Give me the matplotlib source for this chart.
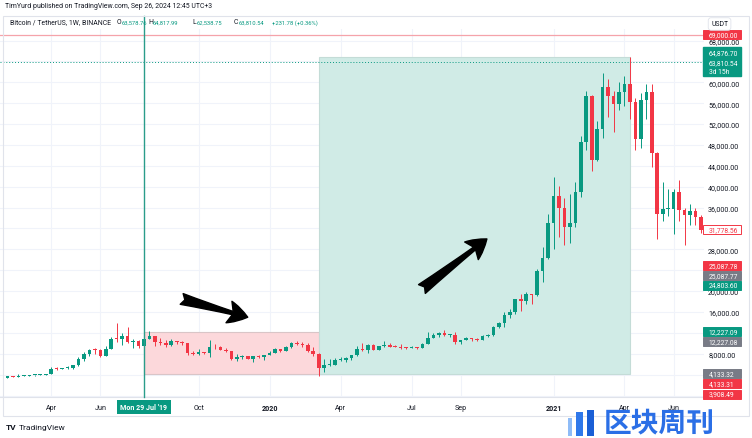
import matplotlib
matplotlib.use("Agg")
import matplotlib.pyplot as plt
from matplotlib.patches import Rectangle
from matplotlib import transforms
import numpy as np
import pandas as pd

plt.rcParams["font.family"] = ["Roboto", "DejaVu Sans"]

# weekly BTC/USDT candles, first week starts 2019-02-04
first_week = "2019-02-04"
opens = [3414, 3660, 3620, 3740, 3820, 3860, 3990, 4010, 4100, 5060, 5030, 5300, 5360, 5750, 6970, 8000,
         8740, 8730, 7640, 8980, 10850, 10750, 11400, 10200, 10530, 9480, 10820, 11390, 10230, 10140, 9600, 10400,
         10300, 9980, 8050, 7880, 8270, 8220, 9250, 9200, 8800, 8500, 7050, 7420, 7510, 7070, 7510, 7390,
         7760, 8180, 8900, 8590, 9380, 10150, 9920, 9670, 8540, 8040, 5360, 5830, 5880, 6780, 6860, 7120,
         7690, 8900, 8720, 9680, 8720, 9450, 9660, 9340, 9290, 9130, 9070, 9230, 9160, 9930, 11050, 11550,
         11900, 11650, 11680, 10250, 10680, 11080, 10770, 10670, 11380, 11500, 13030, 13800, 15480, 15960, 18410, 18180,
         19360, 19270, 23860, 26440, 33000, 38150, 36020, 32260, 33090, 38900, 48580, 57410, 45140, 50970, 59020, 57350,
         55790, 58200, 59780, 56150, 49070, 56600, 58240, 46430, 34700, 35660, 35800, 39020, 35520, 34680, 35290, 34250]
highs = [3730, 3700, 4200, 3900, 3940, 4000, 4100, 4150, 5490, 5470, 5360, 5630, 5900, 7450, 8370, 8940,
         9090, 8830, 9390, 11150, 13970, 12000, 13200, 10900, 10700, 11080, 12330, 11450, 10950, 10650, 10900, 10470,
         10380, 10050, 8550, 8830, 8420, 10540, 9950, 9490, 9100, 8500, 7860, 7740, 7600, 7520, 7700, 7810,
         8450, 9190, 8990, 9570, 10160, 10500, 10300, 9970, 9200, 8180, 6900, 6960, 7200, 7470, 7300, 7780,
         9470, 10070, 9940, 9950, 9580, 10430, 9990, 9590, 9780, 9370, 9440, 9300, 10120, 12120, 11900, 12090,
         12490, 11800, 12090, 10700, 11180, 11090, 10980, 11500, 11730, 13350, 14100, 15970, 16500, 18480, 19480, 19920,
         19420, 24300, 28420, 34780, 41950, 40100, 37850, 38530, 40960, 49710, 58350, 57530, 52640, 61800, 60630, 58420,
         60000, 61300, 64860, 57000, 57930, 59600, 59600, 46660, 40900, 39500, 39480, 41330, 36000, 36600, 35950, 34680]
lows = [3373, 3560, 3600, 3660, 3670, 3820, 3930, 3950, 4090, 4930, 4990, 5150, 5160, 5700, 6600, 7500,
        8000, 7450, 7520, 8930, 10300, 9600, 10100, 9070, 9100, 9400, 10780, 9460, 9740, 9320, 9580, 9880,
        9600, 7710, 7770, 7760, 7870, 7300, 8980, 8700, 8400, 6790, 6530, 7080, 6950, 6440, 7130, 6870,
        7680, 8120, 8240, 8480, 9150, 9640, 9300, 8410, 7630, 3780, 4440, 5670, 5860, 6600, 6470, 6800,
        7630, 8540, 8110, 8630, 8640, 9270, 9230, 9210, 8830, 8940, 9050, 9000, 9140, 9920, 10950, 11130,
        11400, 11120, 9880, 9880, 10660, 10360, 10380, 10540, 11190, 11410, 12920, 13200, 14800, 15700, 16200, 17570,
        17600, 19000, 21800, 26100, 28130, 30420, 28850, 29240, 32300, 37990, 47000, 43000, 44950, 49270, 53270, 50430,
        54700, 55470, 53000, 47000, 47460, 52900, 43820, 30000, 33400, 34400, 31000, 33340, 28800, 32700, 32700, 31170]
closes = [3660, 3620, 3740, 3820, 3860, 3990, 4010, 4100, 5060, 5030, 5300, 5360, 5750, 6970, 8000, 8740,
          8730, 7640, 8980, 10850, 10750, 11400, 10200, 10530, 9480, 10820, 11390, 10230, 10140, 9600, 10400, 10300,
          9980, 8050, 7880, 8270, 8220, 9250, 9200, 8800, 8500, 7050, 7420, 7510, 7070, 7510, 7390, 7760,
          8180, 8900, 8590, 9380, 10150, 9920, 9670, 8540, 8040, 5360, 5830, 5880, 6780, 6860, 7120, 7690,
          8900, 8720, 9680, 8720, 9450, 9660, 9340, 9290, 9130, 9070, 9230, 9160, 9930, 11050, 11550, 11900,
          11650, 11680, 10250, 10680, 11080, 10770, 10670, 11380, 11500, 13030, 13800, 15480, 15960, 18410, 18180, 19360,
          19270, 23860, 26440, 33000, 38150, 36020, 32260, 33090, 38900, 48580, 57410, 45140, 50970, 59020, 57350, 55790,
          58200, 59780, 56150, 49070, 56600, 58240, 46430, 34700, 35660, 35800, 39020, 35520, 34680, 35290, 34250, 31780]

month_ticks = ["2019-04-01", "2019-06-03", "2019-10-07", "2020-01-06", "2020-04-06",
               "2020-07-06", "2020-09-07", "2021-01-04", "2021-04-05", "2021-06-07"]
month_labels = ["Apr", "Jun", "Oct", "2020", "Apr", "Jul", "Sep", "2021", "Apr", "Jun"]

price_ticks = list(range(0, 70000, 4000))
hidden_ticks = [0, 4000, 12000, 24000, 32000, 64000]   # covered by price tags

cursor_week = "2019-07-29"
red_zone = ("2019-07-29", "2020-03-09", 4133.31, 12227.09)
green_zone = ("2020-03-09", "2021-04-12", 4133.32, 64876.70)
resistance = 69000
last_hover_close = 63810.54

# (tail week, tail price, tip week, tip price)
arrows = [(31.9, 18500, 44.0, 15000), (75.9, 20400, 87.8, 30000)]

UP, DOWN, GRAY = "#089981", "#F23645", "#787B86"
W, H = 752, 439
FS = 5.1

weeks = pd.date_range(first_week, periods=len(closes), freq="7D")
x = np.arange(len(weeks))
o, h, l, c = map(np.array, (opens, highs, lows, closes))
col = np.where(c >= o, UP, DOWN)

fig = plt.figure(figsize=(W / 100, H / 100), dpi=100)
ax = fig.add_axes([0, (H - 398) / H, 704 / W, 368 / H])
ax.set_xlim(-1.37, 127.56)
ax.set_ylim(-287, 70224)

def wk(d):
    return weeks.get_loc(pd.Timestamp(d))

# grid
for t in price_ticks:
    ax.axhline(t, color="#f0f3fa", lw=0.8, zorder=0)
tick_pos = [wk(d) for d in month_ticks]
for t in tick_pos:
    ax.axvline(t, color="#f0f3fa", lw=0.8, zorder=0)

# zones
for a, b, lo, hi in [red_zone, green_zone]:
    fc = "#fcd8db" if a == red_zone[0] else "#d0ebe6"
    ec = "#d9c5c7" if a == red_zone[0] else "#c4dcd7"
    ax.add_patch(Rectangle((wk(a), lo), wk(b) - wk(a), hi - lo, fc=fc, ec=ec, lw=0.8, zorder=1))

# candles
ax.vlines(x, l, h, colors=col, lw=0.7, zorder=3)
body = np.maximum(np.abs(c - o), 180)
ax.bar(x, body, bottom=np.minimum(o, c), width=0.66, color=col, lw=0, zorder=4)

ax.axhline(resistance, color="#f5a3aa", lw=0.9, zorder=2)
ax.axhline(last_hover_close, color=UP, lw=0.7, ls=(0, (1, 2)), zorder=2)
ax.axvline(wk(cursor_week), ymin=0, ymax=1.035, color="#2a9d8a", lw=1.0, clip_on=False, zorder=6)

for x0, y0, x1, y1 in arrows:
    ax.annotate("", xy=(x1, y1), xytext=(x0, y0),
                arrowprops=dict(arrowstyle="fancy,head_length=0.7,head_width=0.8,tail_width=0.4",
                                fc="black", ec="black", mutation_scale=20, shrinkA=0, shrinkB=0),
                zorder=7)

# axes styling
for s in ax.spines.values():
    s.set_visible(False)
ax.spines["bottom"].set_visible(True)
ax.spines["bottom"].set_color("#e0e3eb")
ax.yaxis.tick_right()
ax.set_yticks(price_ticks)
ax.set_yticklabels(["" if v in hidden_ticks else f"{v:,.2f}" for v in price_ticks])
ax.tick_params(axis="y", length=0, pad=3, labelsize=FS, labelcolor="#131722")
ax.set_xticks(tick_pos)
ax.set_xticklabels(month_labels)
ax.tick_params(axis="x", length=0, pad=5, labelsize=FS, labelcolor="#131722")
for lab in ax.get_xticklabels():
    if lab.get_text().isdigit():
        lab.set_fontweight("bold")

ax.annotate("Mon 29 Jul '19", xy=(wk(cursor_week), 0), xycoords=("data", "axes fraction"),
            xytext=(0, -10), textcoords="offset pixels", ha="center", va="center",
            fontsize=FS, color="white", fontweight="bold", annotation_clip=False, zorder=8,
            bbox=dict(boxstyle="square,pad=0.45", fc=UP, ec="none"))

# price tags on the right scale
base = transforms.blended_transform_factory(ax.transAxes, ax.transData)

def price_tag(price, text, fc, tc="white", shift=0, ec=None):
    tr = transforms.offset_copy(base, fig=fig, y=-shift, units="dots")
    ax.add_patch(Rectangle((0.9986, price - 862), 0.0545, 1725, transform=tr, fc=fc,
                           ec=ec or fc, lw=0.7, clip_on=False, zorder=9))
    ax.text(1.0065, price, text, transform=tr, ha="left", va="center", fontsize=FS - 0.2,
            color=tc, clip_on=False, zorder=10)

price_tag(resistance, "69,000.00", DOWN, shift=-1)
price_tag(31778.56, "31,778.56", "white", tc=DOWN, ec=DOWN)
price_tag(25087.78, "25,087.78", DOWN, shift=1)
price_tag(25087.78, "25,087.77", GRAY, shift=11)
price_tag(24803.60, "24,803.60", UP, shift=19)
price_tag(12227.09, "12,227.09", UP)
price_tag(12227.09, "12,227.08", GRAY, shift=10)
price_tag(4133.32, "4,133.32", GRAY)
price_tag(4133.32, "4,133.31", DOWN, shift=10)
price_tag(3908.49, "3,908.49", DOWN, shift=19)

# hover block: last price with countdown
tr = transforms.offset_copy(base, fig=fig, y=-13.5, units="dots")
ax.add_patch(Rectangle((0.9986, last_hover_close), 0.0545, 5557, transform=tr, fc=UP, ec=UP,
                       clip_on=False, zorder=9))
for txt, sh in [("64,876.70", -10), ("63,810.54", 0), ("3d 15h", 9)]:
    ax.text(1.0065, last_hover_close, txt, ha="left", va="center", fontsize=FS - 0.2, color="white",
            transform=transforms.offset_copy(base, fig=fig, y=-sh, units="dots"),
            clip_on=False, zorder=10)

# header
HF = 4.95
VF = 4.2
fig.text(5 / W, 1 - 7 / H, "TimYurd published on TradingView.com, Sep 26, 2024 12:45 UTC+3",
         fontsize=HF, color="#131722", va="center")
fig.text(10 / W, 1 - 23 / H, "Bitcoin / TetherUS, 1W, BINANCE", fontsize=HF, color="#131722", va="center")
for xp, k, v in [(117, "O", "63,578.76"), (148.5, "H", "64,817.99"), (192.5, "L", "62,538.75"),
                 (234, "C", "63,810.54")]:
    fig.text(xp / W, 1 - 23 / H, k, fontsize=HF, color="#131722", va="center")
    fig.text((xp + 4.2) / W, 1 - 23 / H, v, fontsize=VF, color=UP, va="center")
fig.text(272 / W, 1 - 23 / H, "+231.78 (+0.36%)", fontsize=VF, color=UP, va="center")
fig.text(711 / W, 1 - 25 / H, "USDT", fontsize=HF, color="#131722", va="center",
         bbox=dict(boxstyle="round,pad=0.4", fc="white", ec="#e0e3eb", lw=0.6))

fig.add_artist(Rectangle((3 / W, 1 - 417 / H), 746 / W, 400 / H, transform=fig.transFigure,
                         fill=False, ec="#e0e3eb", lw=0.8))

# footer
fig.text(6 / W, 1 - 428 / H, "TV", fontsize=6, fontweight="bold", color="#131722", va="center")
fig.text(19 / W, 1 - 428 / H, "TradingView", fontsize=6, color="#131722", va="center")

# watermark
for bx, bw, bh, bc in [(568, 4, 18, "#8fbcf7"), (576, 7, 24, "#2f78ea"), (587, 7, 26, "#1a5fd6")]:
    fig.add_artist(Rectangle((bx / W, (H - 437) / H), bw / W, bh / H, transform=fig.transFigure,
                             fc=bc, ec="none"))
fig.text(604 / W, 1 - 423 / H, "区块周刊", fontsize=20, fontweight="bold", color="#2b6fe6",
         va="center", family=["Noto Sans CJK SC", "DejaVu Sans"])

fig.savefig("out.png", dpi=100)
